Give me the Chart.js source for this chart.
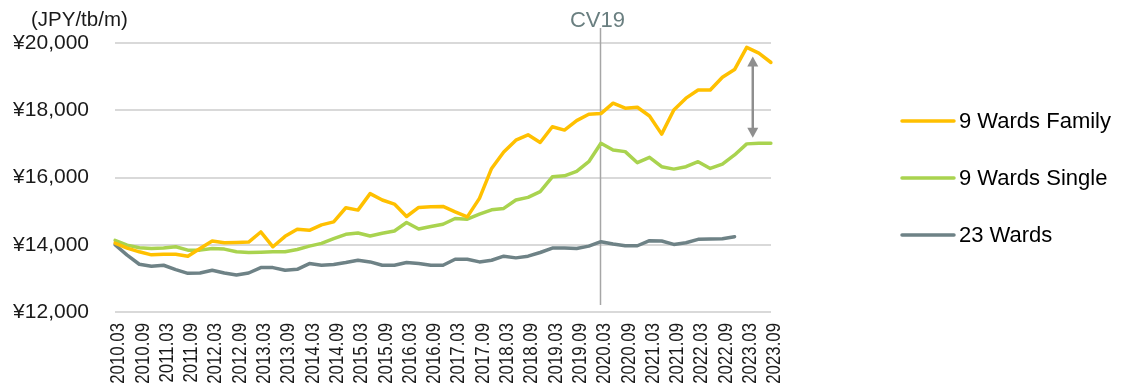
<!DOCTYPE html>
<html>
<head>
<meta charset="utf-8">
<script src="https://cdn.jsdelivr.net/npm/chart.js@4.4.1/dist/chart.umd.min.js"></script>
<style>
  html, body { margin: 0; padding: 0; background: #fff; }
  #rent { display: block; }
</style>
</head>
<body>
<canvas id="rent" width="1129" height="392"></canvas>
<script>
// quarterly periods, labelled every half year on the axis
const periods = [
    '2010.03', '2010.06', '2010.09', '2010.12', '2011.03', '2011.06', '2011.09', '2011.12',
    '2012.03', '2012.06', '2012.09', '2012.12', '2013.03', '2013.06', '2013.09', '2013.12',
    '2014.03', '2014.06', '2014.09', '2014.12', '2015.03', '2015.06', '2015.09', '2015.12',
    '2016.03', '2016.06', '2016.09', '2016.12', '2017.03', '2017.06', '2017.09', '2017.12',
    '2018.03', '2018.06', '2018.09', '2018.12', '2019.03', '2019.06', '2019.09', '2019.12',
    '2020.03', '2020.06', '2020.09', '2020.12', '2021.03', '2021.06', '2021.09', '2021.12',
    '2022.03', '2022.06', '2022.09', '2022.12', '2023.03', '2023.06', '2023.09'
];

const wards9Family = [
    14050, 13900, 13790, 13700, 13720, 13720, 13660, 13890, 14110, 14060,
    14070, 14080, 14380, 13940, 14250, 14460, 14430, 14590, 14680, 15100,
    15030, 15520, 15330, 15210, 14840, 15110, 15130, 15140, 14980, 14830,
    15380, 16270, 16760, 17110, 17270, 17040, 17510, 17410, 17690, 17880,
    17900, 18210, 18060, 18090, 17830, 17290, 18010, 18360, 18600, 18600,
    18980, 19210, 19870, 19700, 19420
];

const wards9Single = [
    14130, 13990, 13910, 13890, 13900, 13940, 13840, 13840, 13890, 13870,
    13790, 13770, 13780, 13790, 13790, 13860, 13960, 14040, 14180, 14310,
    14350, 14260, 14340, 14410, 14660, 14470, 14540, 14610, 14780, 14760,
    14910, 15040, 15080, 15330, 15410, 15580, 16020, 16050, 16180, 16470,
    17020, 16820, 16770, 16440, 16600, 16320, 16250, 16320, 16470, 16270,
    16400, 16670, 17000, 17020, 17020
];

const wards23 = [
    14000, 13690, 13420, 13360, 13390, 13260, 13150, 13160, 13240, 13160,
    13100, 13160, 13320, 13320, 13240, 13270, 13440, 13390, 13410, 13470,
    13540, 13490, 13390, 13390, 13470, 13440, 13390, 13390, 13570, 13570,
    13490, 13540, 13660, 13610, 13660, 13770, 13900, 13900, 13890, 13960,
    14090, 14020, 13970, 13970, 14120, 14110, 14010, 14060, 14160, 14170,
    14180, 14240
];

const yTicks = [12000, 14000, 16000, 18000, 20000];

// covid marker and the gap arrow between the two 9 wards series
const covidPeriod = '2020.03';
const covidLabel = 'CV19';
const gapArrow = { from: '2023.03', to: '2023.06', top: 19600, bottom: 17180 };

const FONT = "'Liberation Sans', Arial, sans-serif";

Chart.register({
    id: 'covidMarker',
    beforeDatasetsDraw(chart) {
        const { ctx, chartArea, scales } = chart;
        const x = Math.round(scales.x.getPixelForValue(periods.indexOf(covidPeriod))) - 0.5;
        ctx.save();
        ctx.strokeStyle = '#a6a6a6';
        ctx.lineWidth = 1.5;
        ctx.beginPath();
        ctx.moveTo(x, chartArea.top - 15);
        ctx.lineTo(x, chartArea.bottom - 7);
        ctx.stroke();
        ctx.font = `22px ${FONT}`;
        ctx.fillStyle = '#6a7f80';
        ctx.textAlign = 'center';
        ctx.textBaseline = 'alphabetic';
        ctx.fillText(covidLabel, x - 3, 27);
        ctx.restore();
    }
});

Chart.register({
    id: 'gapArrow',
    afterDatasetsDraw(chart) {
        const { ctx, scales } = chart;
        const x = (scales.x.getPixelForValue(periods.indexOf(gapArrow.from)) +
                   scales.x.getPixelForValue(periods.indexOf(gapArrow.to))) / 2;
        const y1 = scales.y.getPixelForValue(gapArrow.top);
        const y2 = scales.y.getPixelForValue(gapArrow.bottom);
        const head = 10, half = 5.5;
        ctx.save();
        ctx.strokeStyle = '#8f8f8f';
        ctx.fillStyle = '#8f8f8f';
        ctx.lineWidth = 2.5;
        ctx.beginPath();
        ctx.moveTo(x, y1 + head - 1);
        ctx.lineTo(x, y2 - head + 1);
        ctx.stroke();
        ctx.beginPath();
        ctx.moveTo(x, y1);
        ctx.lineTo(x - half, y1 + head);
        ctx.lineTo(x + half, y1 + head);
        ctx.closePath();
        ctx.fill();
        ctx.beginPath();
        ctx.moveTo(x, y2);
        ctx.lineTo(x - half, y2 - head);
        ctx.lineTo(x + half, y2 - head);
        ctx.closePath();
        ctx.fill();
        ctx.restore();
    }
});

// vertical period labels, condensed along the text like a narrow face
Chart.register({
    id: 'periodLabels',
    afterDraw(chart) {
        const { ctx, chartArea, scales } = chart;
        ctx.save();
        ctx.font = `20.5px ${FONT}`;
        ctx.fillStyle = '#1a1a1a';
        ctx.textAlign = 'right';
        ctx.textBaseline = 'alphabetic';
        periods.forEach((label, i) => {
            if (i % 2 !== 0) return;
            const x = scales.x.getPixelForValue(i);
            ctx.save();
            ctx.translate(x, chartArea.bottom + 11);
            ctx.rotate(-Math.PI / 2);
            ctx.scale(0.82, 1);
            ctx.fillText(label, 0, 9.3);
            ctx.restore();
        });
        ctx.restore();
    }
});

// unit caption and the right-hand legend
Chart.register({
    id: 'sideText',
    afterDraw(chart) {
        const { ctx, chartArea } = chart;
        ctx.save();
        ctx.font = `20.5px ${FONT}`;
        ctx.fillStyle = '#1a1a1a';
        ctx.textAlign = 'left';
        ctx.textBaseline = 'middle';
        ctx.fillText('(JPY/tb/m)', 31, 20);

        const x0 = chartArea.right + 131;
        chart.data.datasets.forEach((ds, i) => {
            const y = 121 + i * 57;
            ctx.strokeStyle = ds.borderColor;
            ctx.lineWidth = 3.5;
            ctx.lineCap = 'round';
            ctx.beginPath();
            ctx.moveTo(x0, y);
            ctx.lineTo(x0 + 52, y);
            ctx.stroke();
            ctx.font = `22px ${FONT}`;
            ctx.fillStyle = '#000';
            ctx.fillText(ds.label, x0 + 57, y + 1);
        });
        ctx.restore();
    }
});

const lineStyle = {
    borderWidth: 3.5,
    pointRadius: 0,
    pointHoverRadius: 0,
    tension: 0,
    fill: false,
    borderJoinStyle: 'round',
    borderCapStyle: 'round'
};

new Chart(document.getElementById('rent'), {
    type: 'line',
    data: {
        labels: periods,
        datasets: [
            { label: '9 Wards Family', data: wards9Family, borderColor: '#ffc000', ...lineStyle },
            { label: '9 Wards Single', data: wards9Single, borderColor: '#a9d34f', ...lineStyle },
            { label: '23 Wards', data: wards23, borderColor: '#6e8286', ...lineStyle }
        ]
    },
    options: {
        responsive: false,
        animation: false,
        layout: { padding: { top: 43, right: 358, bottom: 0, left: 0 } },
        plugins: {
            legend: { display: false },
            tooltip: { enabled: false }
        },
        scales: {
            x: {
                offset: false,
                grid: { display: false, drawTicks: false },
                border: { display: false },
                ticks: { display: false, autoSkip: false },
                afterFit: (scale) => { scale.height = 80; }
            },
            y: {
                min: yTicks[0],
                max: yTicks[yTicks.length - 1],
                afterBuildTicks: (scale) => { scale.ticks = yTicks.map(v => ({ value: v })); },
                grid: { color: '#d9d9d9', lineWidth: 2, drawTicks: false },
                border: { display: false },
                ticks: {
                    padding: 26,
                    color: '#1a1a1a',
                    font: { family: FONT, size: 21 },
                    callback: (value) => '¥' + value.toLocaleString('en-US')
                },
                afterFit: (scale) => { scale.width = 115; }
            }
        }
    }
});
</script>
</body>
</html>
